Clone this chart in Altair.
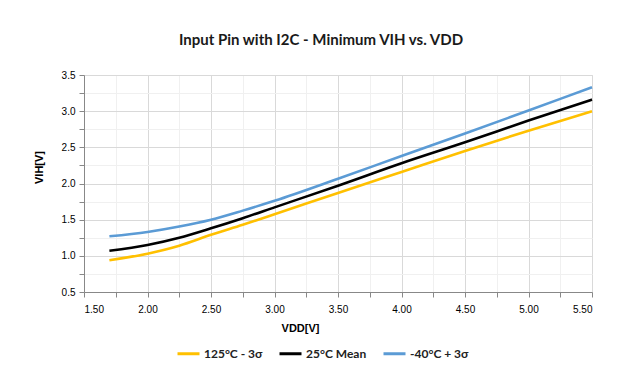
import altair as alt
import pandas as pd

vdd = [1.70, 2.00, 2.25, 2.50, 2.75, 3.00, 3.50, 4.00, 4.50, 5.00, 5.50]
hot_3s = [0.94, 1.03, 1.14, 1.29, 1.43, 1.575, 1.87, 2.16, 2.45, 2.73, 3.00]
mean_25 = [1.07, 1.15, 1.25, 1.38, 1.52, 1.67, 1.97, 2.28, 2.57, 2.87, 3.16]
cold_3s = [1.27, 1.33, 1.405, 1.50, 1.625, 1.76, 2.065, 2.38, 2.69, 3.01, 3.33]

series = ["125°C - 3σ", "25°C Mean", "-40°C + 3σ"]
colors = ["#FFC000", "#000000", "#5B9BD5"]

x_ticks = [1.5 + 0.25 * i for i in range(17)]
y_ticks = [0.5 + 0.25 * i for i in range(13)]

rows = []
for name, vals in zip(series, [hot_3s, mean_25, cold_3s]):
    for v, y in zip(vdd, vals):
        rows.append({"VDD": v, "VIH": y, "Series": name})
df = pd.DataFrame(rows)

FONT = "Lato"
grid_major = "#D9D9D9"
grid_minor = "#F0F0F0"

chart = alt.Chart(df).mark_line(strokeWidth=2.6, interpolate="monotone").encode(
    x=alt.X(
        "VDD:Q",
        scale=alt.Scale(domain=[1.5, 5.5], nice=False, zero=False),
        axis=alt.Axis(
            values=x_ticks,
            labelExpr="datum.value % 0.5 === 0 ? format(datum.value, '.2f') : ''",
            labelPadding=7,
            title="VDD[V]",
            titleX=216,
            titleY=30,
            gridColor={"condition": {"test": "datum.value % 0.5 === 0", "value": grid_major}, "value": grid_minor},
        ),
    ),
    y=alt.Y(
        "VIH:Q",
        scale=alt.Scale(domain=[0.5, 3.5], nice=False, zero=False),
        axis=alt.Axis(
            values=y_ticks,
            labelExpr="datum.value % 0.5 === 0 ? format(datum.value, '.1f') : ''",
            labelPadding=4,
            title="VIH[V]",
            titleX=-40,
            titleY=92,
            gridColor={"condition": {"test": "datum.value % 0.5 === 0", "value": grid_major}, "value": grid_minor},
        ),
    ),
    color=alt.Color(
        "Series:N",
        scale=alt.Scale(domain=series, range=colors),
        sort=series,
        legend=alt.Legend(
            orient="none",
            legendX=92,
            legendY=266,
            direction="horizontal",
            title=None,
            symbolType="stroke",
            symbolSize=484,
            symbolStrokeWidth=3,
            labelFont=FONT,
            labelFontSize=12,
            labelFontWeight="bold",
            labelColor="#222222",
            columnPadding=10,
            labelOffset=3,
        ),
    ),
).properties(
    width=508,
    height=217,
    title=alt.TitleParams(
        "Input Pin with I2C - Minimum VIH vs. VDD",
        font=FONT,
        fontSize=15,
        fontWeight="bold",
        color="#1a1a1a",
        anchor="middle",
        dx=-17,
        offset=22,
    ),
    autosize=alt.AutoSizeParams(type="none"),
    padding={"left": 76, "top": 67, "right": 18, "bottom": 77},
).configure_view(
    stroke=grid_major,
).configure_axis(
    labelFont=FONT,
    labelFontSize=10.5,
    labelFontWeight="bold",
    labelColor="#333333",
    titleFont=FONT,
    titleFontSize=12,
    titleFontWeight="bold",
    titleColor="#222222",
    domainColor=grid_major,
    tickColor=grid_major,
    tickSize=4,
).configure(background="white")

chart.save("out.html", embed_options={"renderer": "svg", "actions": False})
